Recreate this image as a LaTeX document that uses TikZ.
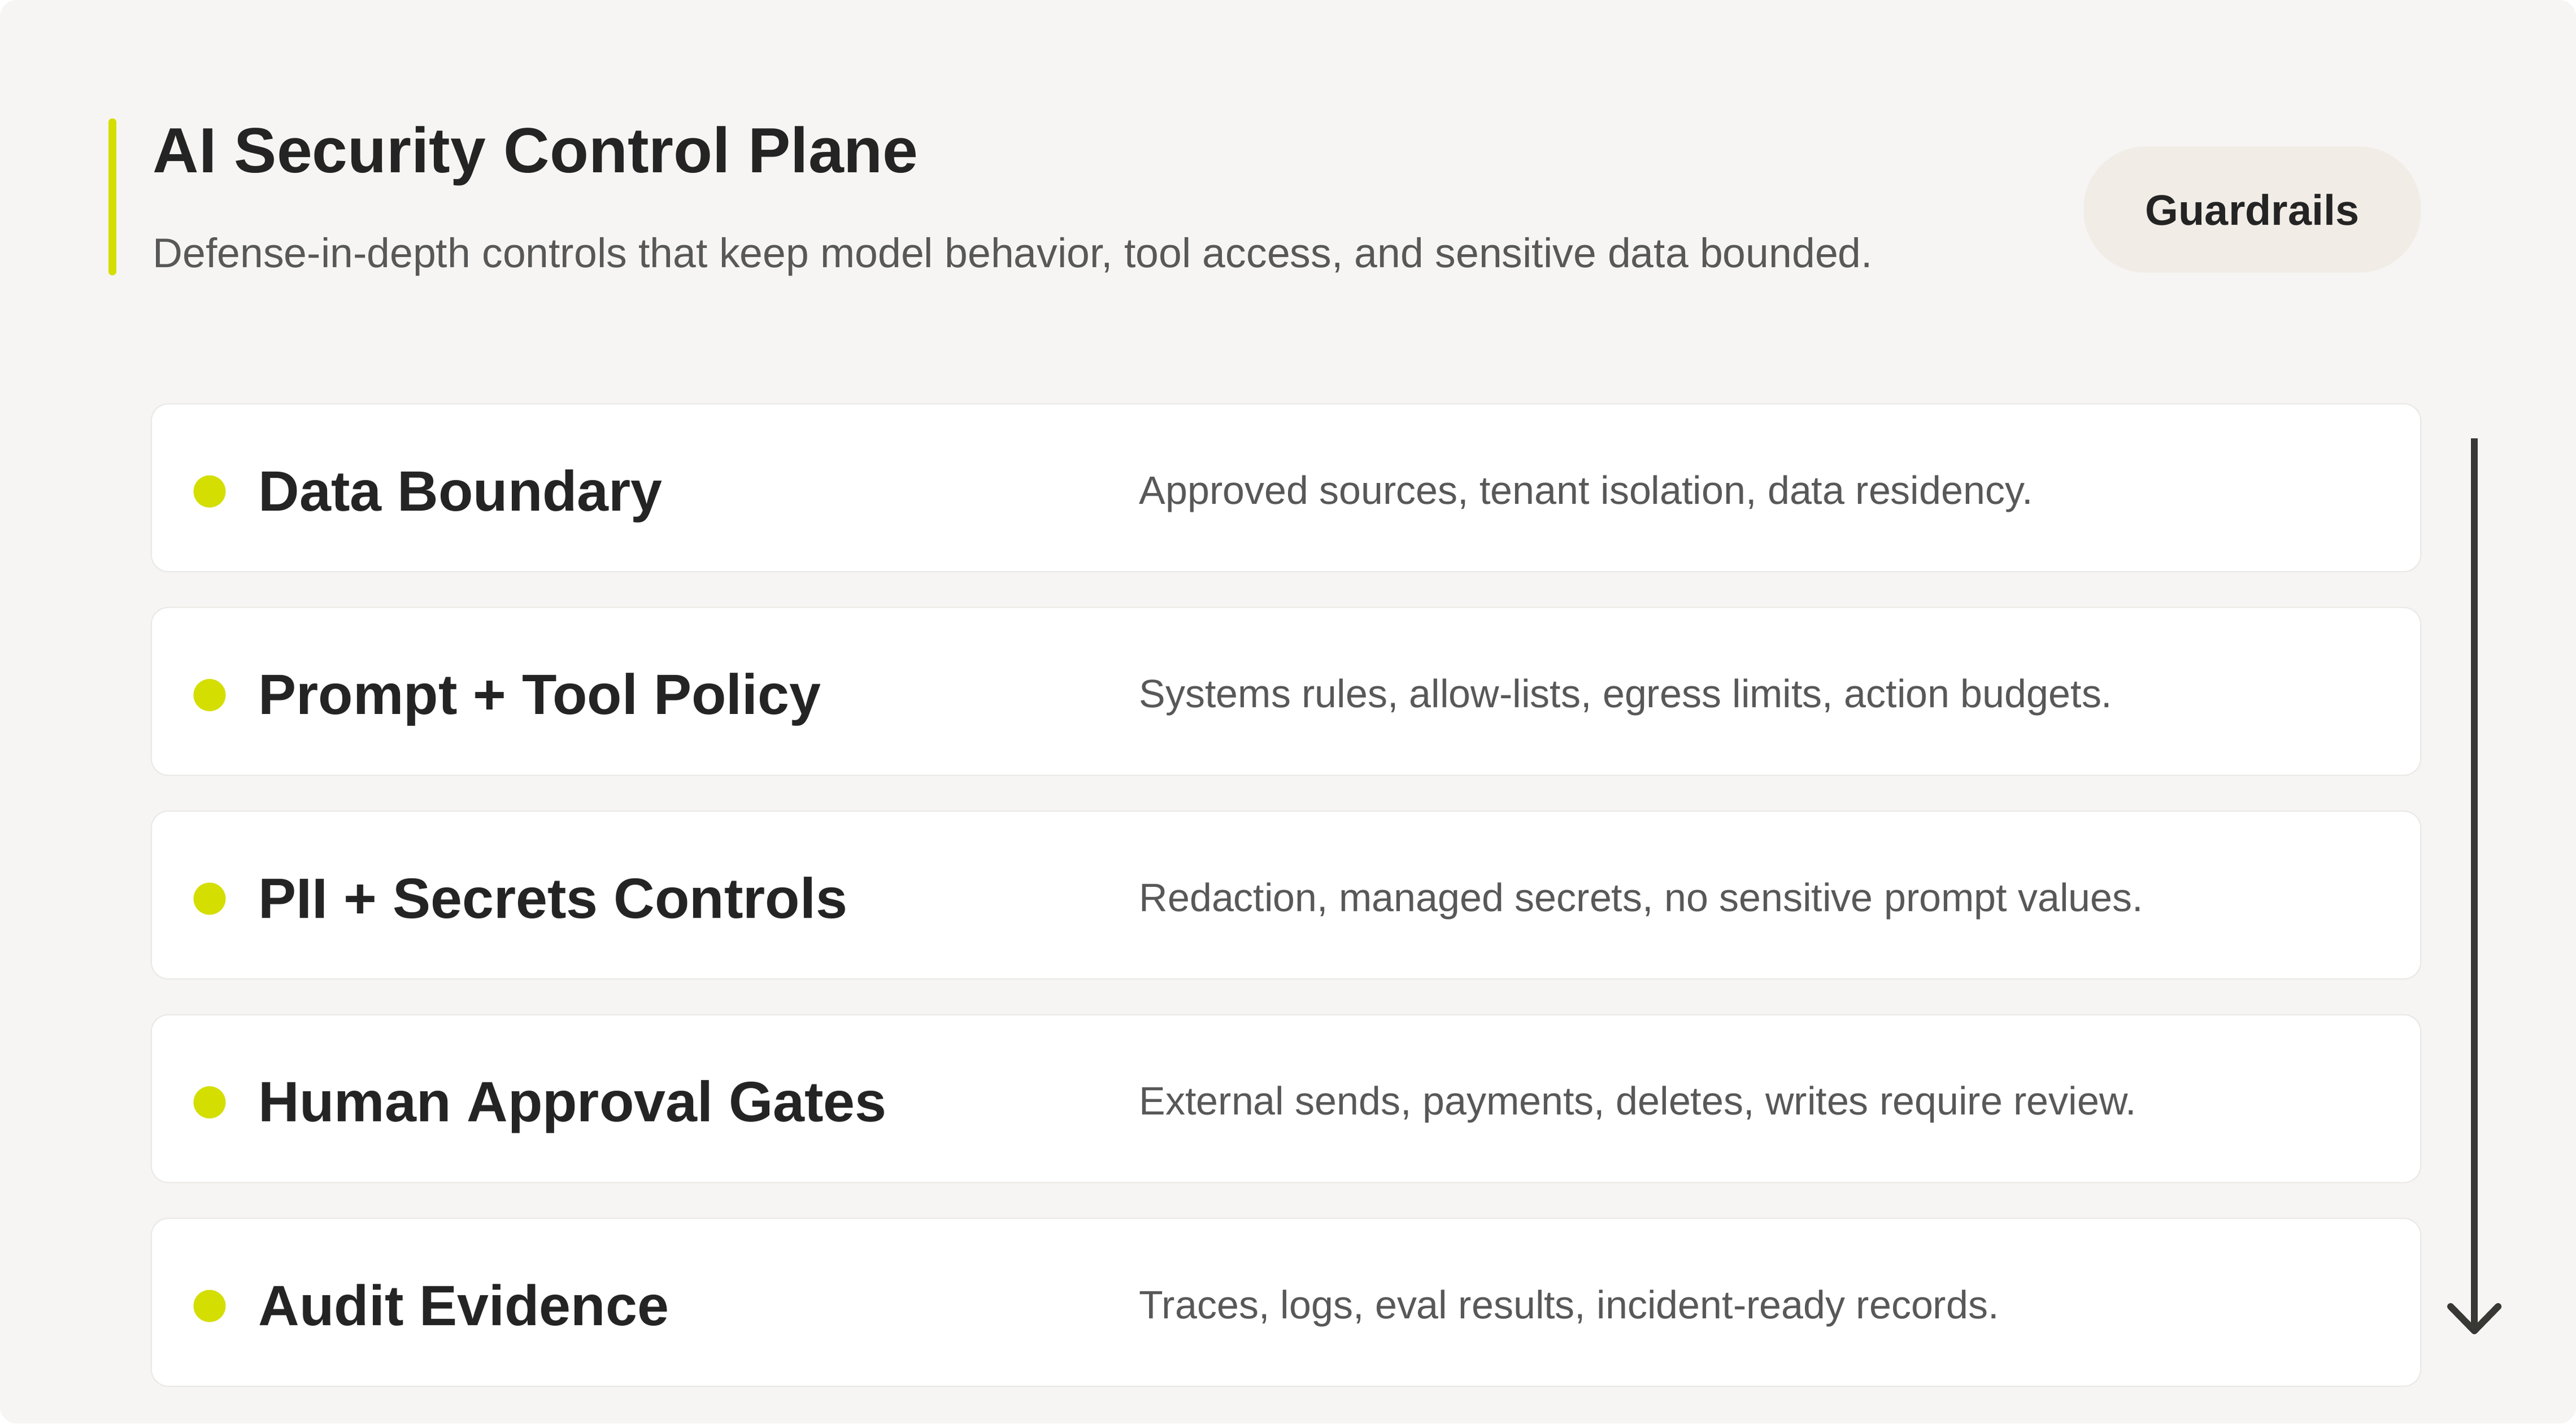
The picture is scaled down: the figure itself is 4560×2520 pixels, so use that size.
\documentclass[tikz,border=0pt]{standalone}
\usepackage{fontspec}
\setmainfont{Liberation Sans}
\usetikzlibrary{arrows.meta}
\definecolor{panelbg}{HTML}{F6F5F3}
\definecolor{cardline}{HTML}{EAE9E6}
\definecolor{pillbg}{HTML}{F1ECE6}
\definecolor{accent}{HTML}{D4DE00}
\definecolor{inkdark}{HTML}{242424}
\definecolor{inkgrey}{HTML}{585858}
\definecolor{arrowink}{HTML}{383835}
\tikzset{
  card_box/.style = {draw=cardline, fill=white, line width=0.6pt, rounded corners=0.3cm, minimum width=40.15cm, minimum height=2.97cm, inner sep=0pt},
  card_dot/.style = {circle, fill=accent, minimum size=0.57cm, inner sep=0pt},
  card_title/.style = {anchor=base west, inner sep=0pt, text=inkdark, font=\fontsize{28.6}{34}\selectfont\bfseries},
  card_desc/.style = {anchor=base west, inner sep=0pt, text=inkgrey, font=\fontsize{19.9}{24}\selectfont},
  head_title/.style = {anchor=base west, inner sep=0pt, text=inkdark, font=\fontsize{32.1}{38}\selectfont\bfseries},
  head_sub/.style = {anchor=base west, inner sep=0pt, text=inkgrey, font=\fontsize{20.85}{25}\selectfont},
  pill_box/.style = {fill=pillbg, rounded corners=1.1cm, minimum width=5.97cm, minimum height=2.23cm, inner sep=0pt, text=inkdark, font=\fontsize{21.5}{26}\selectfont\bfseries},
  flow_arrow/.style = {draw=arrowink, line width=0.12cm, -{Straight Barb[length=0.43cm, width=0.84cm, round]}}
}

\begin{document}
\begin{tikzpicture}[x=0.01cm, y=-0.01cm]
% panel
\fill[white] (0,0) rectangle (4560,2520);
\fill[panelbg, rounded corners=0.3cm] (0,0) rectangle (4560,2520);

% heading
\draw[accent, line width=0.13cm, line cap=round] (199,216) -- (199,481);
\node [head_title] (title) at (270,305) {AI Security Control Plane};
\node [head_sub] (subtitle) at (270,473) {Defense-in-depth controls that keep model behavior, tool access, and sensitive data bounded.};
\node [pill_box] (guard) at (3987,371) {\raisebox{-0.06cm}{Guardrails}};

% control layers
\node [card_box] (card1) at (2276.5,863.5) {};
\node [card_dot] (dot1) at (371,870) {};
\node [card_title] (name1) at (457,904) {Data Boundary};
\node [card_desc] (desc1) at (2016,892) {Approved sources, tenant isolation, data residency.};

\node [card_box] (card2) at (2276.5,1224) {};
\node [card_dot] (dot2) at (371,1230.5) {};
\node [card_title] (name2) at (457,1264.5) {Prompt + Tool Policy};
\node [card_desc] (desc2) at (2016,1252.5) {Systems rules, allow-lists, egress limits, action budgets.};

\node [card_box] (card3) at (2276.5,1584.5) {};
\node [card_dot] (dot3) at (371,1591) {};
\node [card_title] (name3) at (457,1625) {PII + Secrets Controls};
\node [card_desc] (desc3) at (2016,1613) {Redaction, managed secrets, no sensitive prompt values.};

\node [card_box] (card4) at (2276.5,1945) {};
\node [card_dot] (dot4) at (371,1951.5) {};
\node [card_title] (name4) at (457,1985.5) {Human Approval Gates};
\node [card_desc] (desc4) at (2016,1973.5) {External sends, payments, deletes, writes require review.};

\node [card_box] (card5) at (2276.5,2305.5) {};
\node [card_dot] (dot5) at (371,2312) {};
\node [card_title] (name5) at (457,2346) {Audit Evidence};
\node [card_desc] (desc5) at (2016,2334) {Traces, logs, eval results, incident-ready records.};

% flow
\coordinate (flow_top) at (4380,776);
\coordinate (flow_end) at (4380,2362);
\draw [flow_arrow] (flow_top) -- (flow_end);
\end{tikzpicture}
\end{document}
